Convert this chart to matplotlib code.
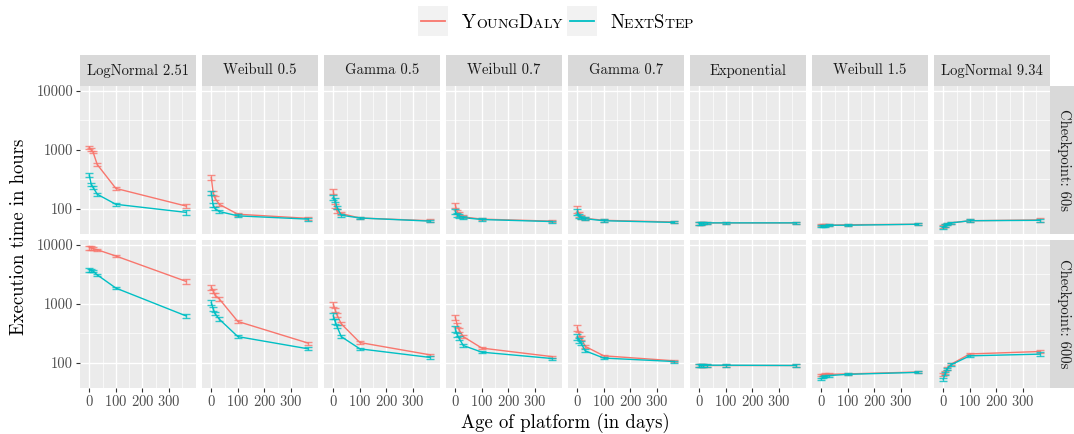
import matplotlib
matplotlib.use("Agg")
import matplotlib.pyplot as plt
from matplotlib.patches import Rectangle
from matplotlib.lines import Line2D
import numpy as np

plt.rcParams['font.family'] = ['cmr10', 'DejaVu Serif']
plt.rcParams['axes.formatter.use_mathtext'] = True

# ---- data ----
ages = [0, 7, 14, 30, 100, 365]
dists = ["LogNormal 2.51", "Weibull 0.5", "Gamma 0.5", "Weibull 0.7",
         "Gamma 0.7", "Exponential", "Weibull 1.5", "LogNormal 9.34"]
rows = ["Checkpoint: 60s", "Checkpoint: 600s"]

young_60 = [
    [1100, 1000, 920, 560, 220, 110],
    [337, 184, 150, 118, 80, 68],
    [199, 111, 90, 82, 69, 62],
    [115, 88, 80, 72, 66, 61],
    [97, 80, 72, 68, 63, 59],
    [56, 56, 57, 57, 57, 57],
    [53, 52, 52, 52, 53, 54],
    [50, 52, 55, 57, 62, 64],
]
next_60 = [
    [370, 260, 230, 175, 118, 86],
    [184, 114, 100, 89, 75, 66],
    [154, 138, 104, 77, 69, 61],
    [90, 78, 74, 70, 65, 60],
    [88, 75, 70, 67, 62, 58],
    [56, 56, 57, 57, 57, 57],
    [50, 51, 51, 52, 52, 54],
    [48, 51, 55, 57, 62, 63],
]
young_600 = [
    [9000, 8900, 8700, 8300, 6500, 2400],
    [1915, 1660, 1400, 1210, 500, 214],
    [985, 787, 645, 455, 219, 135],
    [592, 437, 360, 276, 176, 126],
    [394, 300, 260, 188, 130, 107],
    [90, 90, 90, 90, 90, 90],
    [61, 62, 63, 63, 64, 69],
    [62, 68, 80, 94, 140, 154],
]
next_600 = [
    [3800, 3750, 3600, 3100, 1850, 620],
    [1050, 820, 680, 547, 276, 171],
    [622, 500, 410, 276, 171, 122],
    [374, 300, 260, 195, 150, 117],
    [276, 240, 214, 158, 119, 104],
    [89, 89, 89, 90, 90, 89],
    [53, 56, 58, 60, 63, 68],
    [52, 64, 78, 92, 130, 139],
]
# relative half-width of the error bars
rel_err = [
    [0.07, 0.06, 0.05, 0.05, 0.05, 0.09],
    [0.09, 0.08, 0.07, 0.07, 0.06, 0.06],
    [0.10, 0.08, 0.07, 0.06, 0.05, 0.05],
    [0.10, 0.08, 0.07, 0.06, 0.05, 0.04],
    [0.12, 0.09, 0.07, 0.06, 0.05, 0.04],
    [0.05, 0.05, 0.05, 0.05, 0.05, 0.05],
    [0.04, 0.04, 0.04, 0.04, 0.04, 0.04],
    [0.06, 0.06, 0.05, 0.05, 0.05, 0.07],
]

RED = "#F8766D"
BLUE = "#00BFC4"
PANEL_BG = "#EBEBEB"
STRIP_BG = "#D9D9D9"
TICK_COL = "#4D4D4D"

W, H = 1074, 434
fig = plt.figure(figsize=(W / 100, H / 100), dpi=100)


def box(l, t, w, h):
    return [l / W, 1 - (t + h) / H, w / W, h / H]


col_left = [80 + 122 * i for i in range(8)]
pw = 116
row_top = [86, 240]
ph = 147.5

series = [(young_60, next_60), (young_600, next_600)]

for r in range(2):
    ys_red, ys_blue = series[r]
    for c in range(8):
        ax = fig.add_axes(box(col_left[c], row_top[r], pw, ph))
        ax.set_facecolor(PANEL_BG)
        for s in ax.spines.values():
            s.set_visible(False)
        ax.set_yscale('log')
        ax.set_ylim(10 ** 1.575, 10 ** 4.085)
        ax.set_xlim(-35, 402)
        ax.set_xticks([0, 100, 200, 300])
        ax.set_xticks([50, 150, 250, 350], minor=True)
        ax.set_yticks([100, 1000, 10000])
        ax.set_yticks([10 ** 2.5, 10 ** 3.5], minor=True)
        ax.yaxis.set_major_formatter(matplotlib.ticker.FuncFormatter(lambda v, p: f"{v:.0f}"))
        ax.yaxis.set_minor_formatter(matplotlib.ticker.NullFormatter())
        ax.grid(True, which='major', color='white', lw=1.0)
        ax.grid(True, which='minor', color='white', lw=0.5)
        ax.set_axisbelow(True)
        ax.tick_params(which='minor', length=0)
        ax.tick_params(which='major', length=2.75, width=0.8, color='#333333',
                       labelcolor=TICK_COL, labelsize=10.5, pad=2.2)
        if r == 0:
            ax.tick_params(axis='x', which='major', length=0, labelbottom=False)
        if c > 0:
            ax.tick_params(axis='y', which='major', length=0, labelleft=False)

        for vals, col in ((ys_red[c], RED), (ys_blue[c], BLUE)):
            v = np.array(vals, dtype=float)
            e = v * np.array(rel_err[c])
            ax.plot(ages, v, color=col, lw=1.0, zorder=3)
            ax.errorbar(ages, v, yerr=e, fmt='none', ecolor=col, elinewidth=1.0,
                        capsize=2.6, capthick=1.0, alpha=0.8, zorder=3)

        if r == 0:
            sax = fig.add_axes(box(col_left[c], 55, pw, 31))
            sax.set_facecolor(STRIP_BG)
            sax.set_xticks([])
            sax.set_yticks([])
            for s in sax.spines.values():
                s.set_visible(False)
            sax.text(0.5, 0.5, dists[c], ha='center', va='center',
                     fontsize=10.5, color='#1A1A1A', transform=sax.transAxes)

    rax = fig.add_axes(box(1050, row_top[r], 24, ph))
    rax.set_facecolor(STRIP_BG)
    rax.set_xticks([])
    rax.set_yticks([])
    for s in rax.spines.values():
        s.set_visible(False)
    rax.text(0.58, 0.5, rows[r], ha='center', va='center', rotation=-90,
             fontsize=10.5, color='#1A1A1A', transform=rax.transAxes)

fig.text(565 / W, 1 - 423 / H, "Age of platform (in days)", ha='center', va='center',
         fontsize=13.5, color='black')
fig.text(19 / W, 1 - 237 / H, "Execution time in hours", ha='center', va='center',
         rotation=90, fontsize=13.5, color='black')

# ---- legend with small caps ----
renderer = fig.canvas.get_renderer()


def small_caps(x_px, base_px, word, big=13.5, small=10.0):
    x = x_px
    for ch in word:
        size = big if ch.isupper() else small
        t = fig.text(x / W, 1 - base_px / H, ch.upper(), fontsize=size,
                     va='baseline', ha='left', color='black')
        bb = t.get_window_extent(renderer=renderer)
        x += bb.width


legend_items = [("YoungDaly", RED, 418, 462), ("NextStep", BLUE, 567, 610)]
for label, col, kx, tx in legend_items:
    fig.patches.append(Rectangle((kx / W, 1 - 36 / H), 30 / W, 30 / H,
                                 transform=fig.transFigure, facecolor='#F2F2F2',
                                 edgecolor='none'))
    fig.lines.append(Line2D([(kx + 3) / W, (kx + 27) / W], [1 - 21 / H, 1 - 21 / H],
                            transform=fig.transFigure, color=col, lw=1.3))
    small_caps(tx, 28, label)

fig.savefig("out.png", dpi=100)
